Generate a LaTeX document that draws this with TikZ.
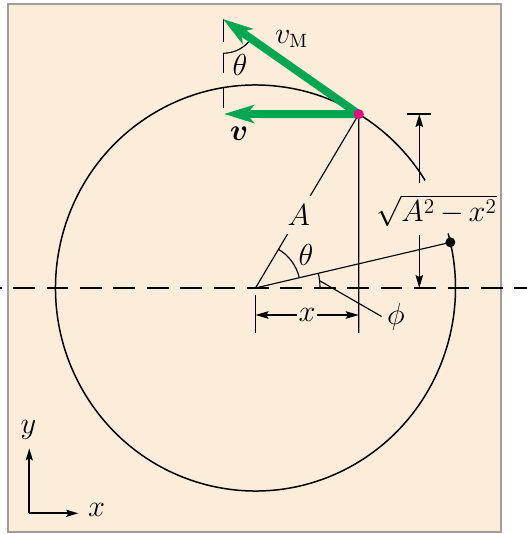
\documentclass[tikz,border=0pt]{standalone}
\usepackage{bm}
\usetikzlibrary{arrows.meta}
\definecolor{paper}{RGB}{251,237,217}
\definecolor{frame}{RGB}{158,158,158}
\definecolor{vgreen}{RGB}{0,166,81}
\definecolor{dotpink}{RGB}{232,0,130}
\begin{document}
\begin{tikzpicture}[>={Stealth[length=0.26cm,width=0.15cm,inset=0.04cm]},
    font=\fontsize{16}{19}\selectfont, thin/.style={line width=0.65pt},
    vec/.style={vgreen, line width=4.5pt, -{Stealth[length=0.6cm,width=0.36cm,inset=0.15cm]}}]
    \useasboundingbox (-5.11,-4.92) rectangle (5.43,5.76);
    \draw[frame, fill=paper, line width=1.1pt] (-4.944,-4.88) rectangle (4.91,5.68);
    \draw[thin, dash pattern=on 0.434cm off 0.234cm, dash phase=0.402cm] (-5.11,0) -- (5.43,0);

    \coordinate (O) at (0,0);
    \coordinate (P) at (58.9:4 and 4.06);
    \coordinate (D) at (13:4 and 4.06);
    \draw[line width=0.85pt] (32:4 and 4.06) arc[start angle=32, end angle=375.6, x radius=4, y radius=4.06];

    \draw[thin] (O) -- node[pos=0.42, fill=paper, inner xsep=2pt, inner ysep=5pt] (Alab) {$A$} (P);
    \draw[thin] (O) -- (D);
    \coordinate (Pb) at (2.066,-0.9);
    \coordinate (Ob) at (0,-0.9);
    \draw[thin] (P) -- (Pb);
    \draw[thin] (0,-0.14) -- (Ob);
    \coordinate (xl) at (0,-0.54);
    \coordinate (xr) at (2.066,-0.54);
    \draw[thin, <->] (xl) -- node[fill=paper, inner sep=1pt] (xlab) {$x$} (xr);

    \draw[thin] (13.1:0.9) arc[start angle=13.1, end angle=59.3, radius=0.9];
    \node (thlab) at (1.01,0.67) {$\theta$};
    \draw[thin] (1.29,0) arc[start angle=0, end angle=13.1, radius=1.29];
    \coordinate (phimid) at (6.5:1.29);
    \node[inner sep=3pt] (philab) at (2.81,-0.57) {$\phi$};
    \draw[thin] (phimid) -- (philab.west);

    \coordinate (hl) at (3.036,3.48);
    \coordinate (hr) at (3.51,3.48);
    \coordinate (htop) at (3.276,3.48);
    \coordinate (hbot) at (3.276,0);
    \draw[thin] (hl) -- (hr);
    \node[font=\fontsize{17}{20}\selectfont, anchor=base] (rootlab) at (3.62,1.32) {$\sqrt{A^2\,{-}\,x^2}$};
    \draw[thin, ->] (3.276,2.106) -- (htop);
    \draw[thin, ->] (3.276,1.06) -- (hbot);

    \foreach \a/\b in {5.375/4.925, 4.706/4.294, 4.026/3.594}
        \draw[thin] (-0.644,\a) -- (-0.644,\b);
    \draw[thin] (-0.644,4.695) arc[start angle=-90, end angle=-35, radius=0.68];
    \node (thtop) at (-0.31,4.46) {$\theta$};

    \coordinate (vtip) at (-0.63,3.48);
    \coordinate (vMtip) at (-0.65,5.38);
    \draw[vec] (P) -- (vtip);
    \draw[vec] (P) -- (vMtip);
    \node (vMlab) at (0.72,4.98) {$v_{\mathrm{M}}$};
    \node (vlab) at (-0.33,3.08) {$\bm{v}$};
    \fill[dotpink] (P) circle (0.1);
    \fill (D) circle (0.1);

    \coordinate (ax) at (-4.524,-4.506);
    \coordinate (ay) at (-4.524,-3.206);
    \coordinate (axx) at (-3.544,-4.506);
    \draw[line width=1.1pt, -{Stealth[length=0.24cm,width=0.14cm,inset=0.04cm]}] (ax) -- (ay);
    \draw[line width=1.1pt, -{Stealth[length=0.24cm,width=0.14cm,inset=0.04cm]}] (ax) -- (axx);
    \node (ylab) at (-4.544,-2.84) {$y$};
    \node (xaxlab) at (-3.176,-4.44) {$x$};
\end{tikzpicture}
\end{document}
